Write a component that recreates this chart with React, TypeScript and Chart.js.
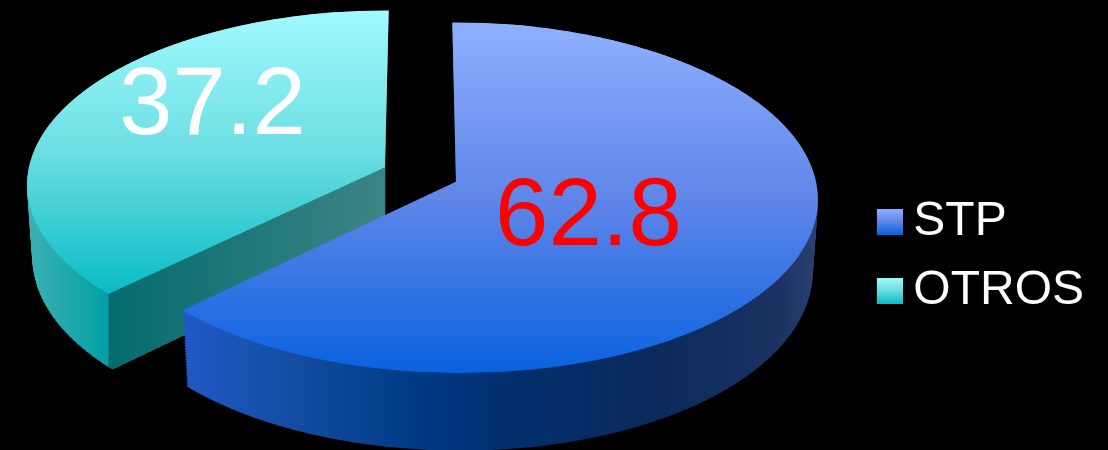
import React, { useEffect, useRef } from "react";
import { Chart, registerables } from "chart.js";

Chart.register(...registerables);

const categories = ["STP", "OTROS"];
const shares = [62.8, 37.2];
const labelColors = ["#ff0000", "#ffffff"];

const topStops = [
  [[0, "#8eb0ff"], [0.5, "#5f86e8"], [1, "#0a62e0"]],
  [[0, "#a0faff"], [0.5, "#6cdee2"], [1, "#0bbcc6"]],
];
const topRanges = [[24, 372], [11, 292]];
const wallRanges = [[185, 817], [30, 385]];
const wallStops = [
  [[0, "#2059c6"], [0.18, "#134c9f"], [0.37, "#003a84"], [0.5, "#012f6e"], [0.74, "#0b2a5c"], [0.94, "#1a3362"], [1, "#2a4170"]],
  [[0, "#3ab0b3"], [0.22, "#02a0a4"], [0.222, "#056b6d"], [1, "#3c8486"]],
];
const labelAnchors = [[588.5, 244.5], [212.5, 133.5]];

const FONT = '"Liberation Sans", Arial, sans-serif';
const PIE_X = 420.5;
const PIE_Y = 174.5;
const EXPLODE = 38.6;
const RX = 358;
const RX_TILT = 0.27;
const RY = 172.5;
const RY_TILT = 0.2;
const PERSP = 0.09;
const SHEAR = 1.25;
const DEPTH = 72;
const LAYERS = 48;

function swatch(stops: any[]) {
  const c = document.createElement("canvas");
  c.width = 30;
  c.height = 26;
  const g = c.getContext("2d")!;
  const gr = g.createLinearGradient(0, 0, 0, 26);
  stops.forEach(([o, col]) => gr.addColorStop(o, col));
  g.fillStyle = gr;
  g.fillRect(4, 0, 26, 26);
  return c;
}

function drawBand(ctx: any, el: any, slice: any, t: number, v0: number, v1: number, paint: any) {
  const { ax, ay, A, B } = slice;
  const R = el.outerRadius;
  const a = A * (1 + 0.03 * t);
  const b = B * (1 - 0.015 * t);
  const f = (v: number) => ay + DEPTH * t + (a * v) / (1 - PERSP * v);
  const y0 = f(v0);
  const y1 = f(v1);
  const vm = (v0 + v1) / 2;
  const sy = (y1 - y0) / ((v1 - v0) * R);
  const sx = b / (1 - PERSP * vm) / R;
  const bx = ax + (ax - PIE_X) * SHEAR * (1 / (1 - PERSP * vm) - 1);
  const localX = (x: number) => el.x + (x - bx) / sx;
  const localY = (y: number) => el.y + v0 * R + (y - y0) / sy;
  const saved = el.options;
  el.options = {
    backgroundColor: paint(ctx, localX, localY),
    borderColor: "transparent",
    borderWidth: 0,
    borderRadius: 0,
    borderAlign: "center",
    offset: 0,
    spacing: 0,
    circular: true,
  };
  ctx.save();
  ctx.beginPath();
  ctx.rect(0, y0, 1108, y1 - y0 + 1);
  ctx.clip();
  ctx.translate(bx, y0);
  ctx.scale(sx, sy);
  ctx.translate(-el.x, -(el.y + v0 * R));
  el.draw(ctx);
  ctx.restore();
  el.options = saved;
}

const pie3d = {
  id: "pie3d",
  beforeDatasetsDraw(chart: any) {
    const ctx = chart.ctx;
    const arcs = chart.getDatasetMeta(0).data;
    const order = arcs.map((_: any, i: number) => i).reverse();
    for (const i of order) {
      const el = arcs[i];
      const mid = (el.startAngle + el.endAngle) / 2;
      const k = RY / RX;
      const ax = PIE_X + Math.cos(mid) * EXPLODE;
      const ay = PIE_Y + Math.sin(mid) * EXPLODE * k;
      const slice = {
        ax,
        ay,
        A: RY + RY_TILT * (ay - PIE_Y),
        B: RX + RX_TILT * (ay - PIE_Y),
      };

      const wallPaint = (c: any, lx: any) => {
        const g = c.createLinearGradient(lx(wallRanges[i][0]), 0, lx(wallRanges[i][1]), 0);
        wallStops[i].forEach(([o, col]: any) => g.addColorStop(o, col));
        return g;
      };
      const N = 100;
      for (let l = LAYERS; l >= 1; l--) {
        const t = l / LAYERS;
        for (let b = 48; b < N; b++) {
          drawBand(ctx, el, slice, t, -1 + (2 * b) / N, -1 + (2 * (b + 1)) / N, wallPaint);
        }
      }
      const topPaint = (c: any, _lx: any, ly: any) => {
        const g = c.createLinearGradient(0, ly(topRanges[i][0]), 0, ly(topRanges[i][1]));
        topStops[i].forEach(([o, col]: any) => g.addColorStop(o, col));
        return g;
      };
      const M = 200;
      for (let b = 0; b < M; b++) {
        drawBand(ctx, el, slice, 0, -1 + (2 * b) / M, -1 + (2 * (b + 1)) / M, topPaint);
      }
    }
    ctx.save();
    ctx.font = `96px ${FONT}`;
    ctx.textAlign = "center";
    ctx.textBaseline = "alphabetic";
    shares.forEach((v, i) => {
      ctx.fillStyle = labelColors[i];
      ctx.fillText(v.toFixed(1), labelAnchors[i][0], labelAnchors[i][1]);
    });
    ctx.restore();
    return false;
  },
};

export default function App() {
  const ref = useRef<HTMLCanvasElement>(null);
  useEffect(() => {
    const swatches = topStops.map(swatch);
    const chart = new Chart(ref.current!, {
      type: "pie",
      data: {
        labels: categories,
        datasets: [{ data: shares, backgroundColor: ["#5f86e8", "#6cdee2"], borderWidth: 0 }],
      },
      options: {
        responsive: false,
        animation: false,
        events: [],
        layout: { padding: { top: 62, right: 14 } },
        plugins: {
          tooltip: { enabled: false },
          legend: {
            position: "right",
            labels: {
              color: "#ffffff",
              font: { family: FONT, size: 48 },
              usePointStyle: true,
              boxWidth: 3,
              boxHeight: 3,
              padding: 21,
              generateLabels: () =>
                categories.map((text, i) => ({
                  text,
                  pointStyle: swatches[i],
                  fontColor: "#ffffff",
                  fillStyle: "#000",
                  strokeStyle: "transparent",
                  lineWidth: 0,
                  hidden: false,
                  index: i,
                })),
            },
          },
        },
      } as any,
      plugins: [pie3d as any],
    });
    return () => chart.destroy();
  }, []);
  return (
    <div style={{ position: "fixed", inset: 0, background: "#000", overflow: "hidden" }}>
      <canvas ref={ref} width={1108} height={450} style={{ display: "block" }} />
    </div>
  );
}
